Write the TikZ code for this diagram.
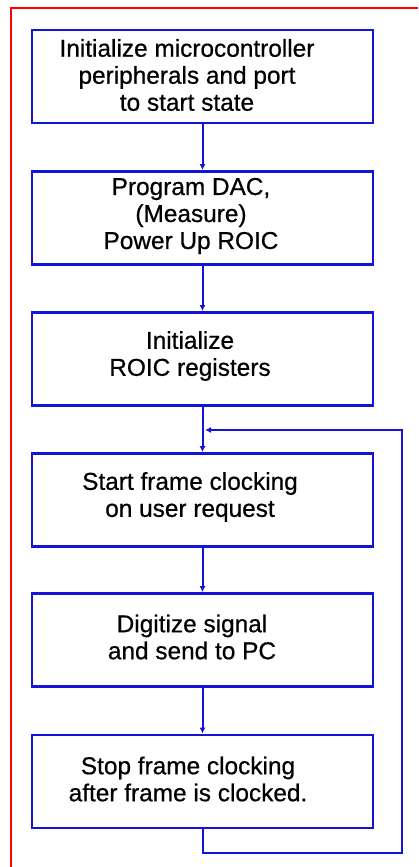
\documentclass[tikz,border=0pt]{standalone}
\usepackage{fontspec}
\setmainfont{Liberation Sans}[FakeBold=0.6]
\usetikzlibrary{arrows.meta}
\definecolor{boxblue}{RGB}{20,20,215}
\definecolor{frame}{RGB}{255,0,0}
\begin{document}
\begin{tikzpicture}[x=1pt,y=-1pt,
  stepbox/.style={draw=boxblue,line width=2.8pt,minimum width=341pt,minimum height=93pt,inner sep=0pt},
  steptext/.style={align=center,font=\fontsize{24.4}{27}\selectfont,inner sep=0pt},
  flow/.style={draw=boxblue,line width=2pt,-{Latex[length=6pt,width=6pt]}},
  loopline/.style={draw=boxblue,line width=2pt}]
\useasboundingbox (0,0) rectangle (418,867);
\draw[frame,line width=1.8pt] (11,867) -- (11,8) -- (418,8);
% boxes
\node[stepbox] (b1) at (202.5,76.5) {};
\node[stepbox] (b2) at (202.5,218) {};
\node[stepbox] (b3) at (202.5,359) {};
\node[stepbox] (b4) at (202.5,500) {};
\node[stepbox] (b5) at (202.5,640) {};
\node[stepbox] (b6) at (202.5,781.5) {};
% texts
\node[steptext] (t1) at (187,75) {Initialize microcontroller\\peripherals and port\\to start state};
\node[steptext] (t2) at (191,216) {Program DAC,\\(Measure)\\Power Up ROIC};
\node[steptext] (t3) at (190,356) {Initialize\\ROIC registers};
\node[steptext] (t4) at (190,497) {Start frame clocking\\on user request};
\node[steptext] (t5) at (192,637) {Digitize signal\\and send to PC};
\node[steptext] (t6) at (188,779) {Stop frame clocking\\after frame is clocked.};
% connectors
\draw[flow] (b1.south) -- (b2.north);
\draw[flow] (b2.south) -- (b3.north);
\draw[flow] (b3.south) -- (b4.north);
\draw[flow] (b4.south) -- (b5.north);
\draw[flow] (b5.south) -- (b6.north);
\coordinate (j) at (205,430);
\draw[flow] (b6.south) -- ++(0,24) -| (402,430) -- (j);
\end{tikzpicture}
\end{document}
